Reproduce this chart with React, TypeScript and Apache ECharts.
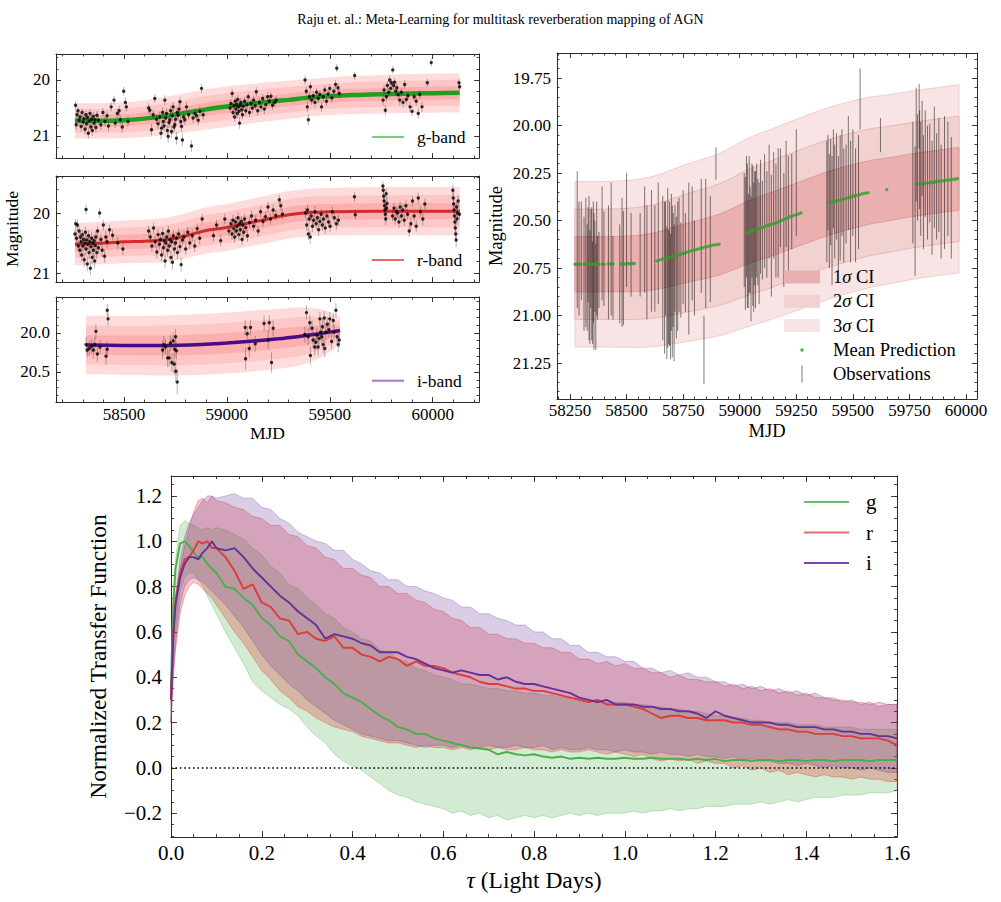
import React, { useEffect, useRef } from "react";
import * as echarts from "echarts";

const FONT = "'Liberation Serif', 'Times New Roman', Times, serif";
const FRAME = "#2b2b2b";

/* ------------------------------------------------------------------ */
/* Transfer functions (lower panel): median and 1-sigma envelope       */
/* ------------------------------------------------------------------ */
const TAU = [
  0, 0.005, 0.01, 0.02, 0.03, 0.04, 0.05, 0.06, 0.07, 0.08, 0.09, 0.1,
  0.12, 0.14, 0.16, 0.18, 0.2, 0.22, 0.24, 0.26, 0.28, 0.3,
  0.32, 0.34, 0.36, 0.38, 0.4, 0.42, 0.44, 0.46, 0.48, 0.5,
  0.52, 0.54, 0.56, 0.58, 0.6, 0.62, 0.64, 0.66, 0.68, 0.7,
  0.72, 0.74, 0.76, 0.78, 0.8, 0.82, 0.84, 0.86, 0.88, 0.9,
  0.92, 0.94, 0.96, 0.98, 1.0, 1.02, 1.04, 1.06, 1.08, 1.1,
  1.12, 1.14, 1.16, 1.18, 1.2, 1.22, 1.24, 1.26, 1.28, 1.3,
  1.32, 1.34, 1.36, 1.38, 1.4, 1.42, 1.44, 1.46, 1.48, 1.5,
  1.52, 1.54, 1.56, 1.58, 1.6,
];

const G_TF = [
  0.35, 0.72, 0.88, 0.99, 1.0, 0.98, 0.95, 0.93, 0.93, 0.9, 0.88, 0.86,
  0.8, 0.79, 0.75, 0.72, 0.66, 0.63, 0.58, 0.56, 0.5, 0.47,
  0.44, 0.4, 0.37, 0.33, 0.31, 0.29, 0.26, 0.23, 0.21, 0.18,
  0.17, 0.15, 0.15, 0.13, 0.12, 0.11, 0.1, 0.09, 0.085, 0.08,
  0.06, 0.07, 0.06, 0.055, 0.06, 0.05, 0.045, 0.05, 0.04, 0.045,
  0.04, 0.045, 0.04, 0.04, 0.045, 0.04, 0.04, 0.045, 0.04, 0.04,
  0.04, 0.035, 0.04, 0.035, 0.04, 0.03, 0.035, 0.035, 0.03, 0.035,
  0.035, 0.03, 0.035, 0.035, 0.03, 0.035, 0.035, 0.03, 0.035, 0.035,
  0.035, 0.03, 0.035, 0.035, 0.035,
];
const G_TF_LO = [
  0.2, 0.45, 0.6, 0.78, 0.84, 0.86, 0.86, 0.83, 0.8, 0.76, 0.72, 0.68,
  0.6, 0.53, 0.46, 0.38, 0.34, 0.31, 0.28, 0.26, 0.23, 0.18,
  0.14, 0.11, 0.06, 0.03, 0.01, -0.01, -0.04, -0.07, -0.1, -0.12,
  -0.13, -0.15, -0.16, -0.17, -0.18, -0.2, -0.19, -0.21, -0.2, -0.22,
  -0.21, -0.23, -0.22, -0.21, -0.22, -0.21, -0.22, -0.21, -0.2, -0.21,
  -0.2, -0.21, -0.2, -0.2, -0.2, -0.19, -0.2, -0.19, -0.19, -0.18,
  -0.19, -0.18, -0.18, -0.17, -0.17, -0.17, -0.16, -0.16, -0.16, -0.15,
  -0.16, -0.15, -0.14, -0.15, -0.14, -0.13, -0.13, -0.13, -0.12, -0.12,
  -0.12, -0.11, -0.11, -0.11, -0.1,
];
const G_TF_HI = [
  0.5, 0.78, 0.92, 1.07, 1.09, 1.08, 1.07, 1.06, 1.05, 1.06, 1.05, 1.06,
  1.05, 1.03, 1.01, 0.97, 0.94, 0.89, 0.86, 0.81, 0.79, 0.75,
  0.72, 0.68, 0.66, 0.62, 0.6, 0.57, 0.56, 0.52, 0.51, 0.48,
  0.47, 0.44, 0.43, 0.41, 0.4, 0.39, 0.37, 0.37, 0.36, 0.35,
  0.35, 0.34, 0.34, 0.33, 0.33, 0.32, 0.32, 0.31, 0.31, 0.31,
  0.3, 0.3, 0.29, 0.29, 0.29, 0.28, 0.28, 0.27, 0.27, 0.26,
  0.26, 0.25, 0.25, 0.24, 0.23, 0.23, 0.22, 0.22, 0.21, 0.21,
  0.2, 0.2, 0.2, 0.19, 0.19, 0.19, 0.18, 0.18, 0.18, 0.18,
  0.17, 0.17, 0.17, 0.17, 0.17,
];

const R_TF = [
  0.3, 0.6, 0.74, 0.86, 0.92, 0.93, 0.96, 1.0, 0.99, 1.0, 0.97, 0.97,
  0.93, 0.87, 0.79, 0.81, 0.73, 0.71, 0.66, 0.65, 0.59, 0.6,
  0.57, 0.56, 0.58, 0.53, 0.53, 0.5, 0.49, 0.47, 0.49, 0.48,
  0.45, 0.47, 0.45, 0.45, 0.44, 0.42, 0.41, 0.4, 0.38, 0.37,
  0.37, 0.36, 0.35, 0.35, 0.34, 0.34, 0.33, 0.32, 0.31, 0.3,
  0.29, 0.3, 0.28, 0.28, 0.28, 0.27, 0.26, 0.24, 0.22, 0.23,
  0.23, 0.22, 0.22, 0.21, 0.21, 0.21, 0.2, 0.2, 0.19, 0.19,
  0.18, 0.17, 0.17, 0.16, 0.16, 0.15, 0.15, 0.15, 0.14, 0.14,
  0.13, 0.13, 0.13, 0.12, 0.1,
];
const R_TF_LO = [
  0.2, 0.4, 0.52, 0.68, 0.76, 0.8, 0.82, 0.81, 0.79, 0.77, 0.75, 0.72,
  0.66, 0.6, 0.55, 0.49, 0.43, 0.39, 0.34, 0.31, 0.27, 0.25,
  0.22, 0.2, 0.18, 0.17, 0.16, 0.14, 0.13, 0.12, 0.11, 0.11,
  0.1, 0.09, 0.1, 0.09, 0.09, 0.08, 0.09, 0.08, 0.09, 0.08,
  0.09, 0.08, 0.08, 0.09, 0.08, 0.08, 0.07, 0.08, 0.07, 0.07,
  0.08, 0.07, 0.06, 0.07, 0.06, 0.05, 0.06, 0.04, 0.03, 0.04,
  0.03, 0.04, 0.02, 0.03, 0.02, 0.02, 0.0, 0.01, -0.01, 0.0,
  -0.02, -0.01, -0.03, -0.02, -0.03, -0.04, -0.03, -0.04, -0.04, -0.05,
  -0.04, -0.05, -0.05, -0.06, -0.06,
];
const R_TF_HI = [
  0.35, 0.58, 0.72, 0.88, 0.98, 1.06, 1.13, 1.18, 1.19, 1.17, 1.2, 1.18,
  1.17, 1.15, 1.14, 1.11, 1.1, 1.07, 1.07, 1.03, 1.02, 0.98,
  0.97, 0.93, 0.92, 0.88, 0.88, 0.85, 0.84, 0.8, 0.8, 0.77,
  0.77, 0.74, 0.73, 0.7, 0.69, 0.66, 0.65, 0.62, 0.62, 0.59,
  0.59, 0.57, 0.57, 0.55, 0.55, 0.53, 0.53, 0.51, 0.51, 0.48,
  0.48, 0.46, 0.47, 0.45, 0.46, 0.44, 0.44, 0.42, 0.42, 0.4,
  0.41, 0.39, 0.39, 0.38, 0.38, 0.36, 0.37, 0.35, 0.36, 0.34,
  0.35, 0.33, 0.34, 0.32, 0.33, 0.31, 0.31, 0.3, 0.3, 0.29,
  0.29, 0.28, 0.29, 0.28, 0.28,
];

const I_TF = [
  0.3, 0.58, 0.72, 0.84, 0.9, 0.93, 0.93, 0.92, 0.95, 0.97, 1.0, 0.97,
  0.96, 0.97, 0.93, 0.88, 0.84, 0.8, 0.76, 0.73, 0.69, 0.66,
  0.63, 0.57, 0.59, 0.58, 0.57, 0.55, 0.54, 0.51, 0.51, 0.51,
  0.49, 0.48, 0.46, 0.44, 0.43, 0.42, 0.43, 0.42, 0.41, 0.41,
  0.39, 0.4, 0.38, 0.37, 0.37, 0.36, 0.35, 0.34, 0.33, 0.31,
  0.3, 0.29, 0.3, 0.28, 0.28, 0.28, 0.27, 0.27, 0.26, 0.26,
  0.25, 0.25, 0.24, 0.22, 0.25, 0.23, 0.22, 0.21, 0.2, 0.2,
  0.2, 0.19, 0.19, 0.18, 0.18, 0.18, 0.17, 0.17, 0.16, 0.16,
  0.15, 0.15, 0.14, 0.14, 0.13,
];
const I_TF_LO = [
  0.2, 0.42, 0.55, 0.72, 0.8, 0.83, 0.84, 0.83, 0.82, 0.8, 0.78, 0.76,
  0.72, 0.67, 0.62, 0.56, 0.5, 0.45, 0.41, 0.37, 0.34, 0.3,
  0.27, 0.24, 0.21, 0.19, 0.17, 0.15, 0.14, 0.13, 0.12, 0.12,
  0.11, 0.1, 0.09, 0.1, 0.1, 0.09, 0.1, 0.09, 0.09, 0.1,
  0.09, 0.09, 0.1, 0.09, 0.09, 0.1, 0.08, 0.09, 0.08, 0.08,
  0.09, 0.08, 0.08, 0.07, 0.08, 0.07, 0.07, 0.06, 0.07, 0.06,
  0.06, 0.05, 0.06, 0.05, 0.05, 0.04, 0.05, 0.03, 0.04, 0.03,
  0.03, 0.02, 0.02, 0.01, 0.02, 0.01, 0.0, 0.01, 0.0, 0.0,
  -0.01, 0.0, -0.01, -0.02, -0.02,
];
const I_TF_HI = [
  0.35, 0.6, 0.75, 0.92, 1.02, 1.08, 1.12, 1.15, 1.18, 1.2, 1.2, 1.19,
  1.2, 1.21, 1.19, 1.19, 1.15, 1.14, 1.1, 1.08, 1.04, 1.02,
  1.0, 0.99, 0.96, 0.96, 0.92, 0.9, 0.87, 0.86, 0.83, 0.83,
  0.8, 0.8, 0.78, 0.77, 0.75, 0.74, 0.71, 0.71, 0.68, 0.68,
  0.66, 0.65, 0.63, 0.63, 0.6, 0.6, 0.57, 0.57, 0.54, 0.54,
  0.51, 0.51, 0.49, 0.49, 0.47, 0.47, 0.44, 0.44, 0.42, 0.43,
  0.41, 0.42, 0.4, 0.4, 0.38, 0.38, 0.36, 0.37, 0.35, 0.36,
  0.34, 0.35, 0.33, 0.34, 0.32, 0.33, 0.31, 0.31, 0.29, 0.3,
  0.28, 0.29, 0.27, 0.28, 0.28,
];

/* ------------------------------------------------------------------ */
/* Light-curve fits (left panels): knot MJD, mean magnitude, sigma     */
/* ------------------------------------------------------------------ */
const G_FIT_MJD = [58262, 58400, 58500, 58600, 58700, 58800, 58900, 59000, 59100, 59200, 59300, 59400, 59500, 59600, 59700, 59800, 59900, 60000, 60131];
const G_FIT_MAG = [20.73, 20.73, 20.72, 20.69, 20.645, 20.585, 20.525, 20.475, 20.43, 20.39, 20.355, 20.315, 20.29, 20.27, 20.26, 20.25, 20.24, 20.235, 20.23];
const G_FIT_SIG = [0.105, 0.105, 0.107, 0.11, 0.114, 0.117, 0.12, 0.12, 0.118, 0.116, 0.114, 0.112, 0.112, 0.113, 0.114, 0.115, 0.116, 0.116, 0.117];

const R_FIT_MJD = [58262, 58400, 58500, 58600, 58700, 58800, 58900, 59000, 59100, 59200, 59300, 59400, 59500, 59600, 59800, 60000, 60131];
const R_FIT_MAG = [20.52, 20.5, 20.48, 20.47, 20.45, 20.38, 20.29, 20.24, 20.17, 20.1, 20.03, 19.99, 19.98, 19.975, 19.97, 19.97, 19.97];
const R_FIT_SIG = [0.118, 0.118, 0.119, 0.12, 0.122, 0.125, 0.128, 0.13, 0.131, 0.132, 0.132, 0.132, 0.132, 0.133, 0.134, 0.135, 0.135];

const I_FIT_MJD = [58316, 58500, 58700, 58900, 59000, 59100, 59250, 59350, 59450, 59500, 59550];
const I_FIT_MAG = [20.155, 20.16, 20.16, 20.145, 20.13, 20.11, 20.075, 20.045, 20.01, 19.99, 19.97];
const I_FIT_SIG = [0.125, 0.126, 0.128, 0.13, 0.13, 0.13, 0.128, 0.125, 0.105, 0.085, 0.06];

/* Observed photometry: [MJD, magnitude, error] */
const G_OBS = [
  [58265, 20.45, 0.07], [58268, 20.8, 0.08], [58272, 20.62, 0.08], [58277, 20.55, 0.07], [58282, 20.72, 0.09], [58287, 20.66, 0.08],
  [58292, 20.83, 0.09], [58297, 20.58, 0.07], [58302, 20.75, 0.1], [58306, 20.69, 0.08], [58311, 20.88, 0.1], [58315, 20.62, 0.08],
  [58319, 20.78, 0.09], [58323, 20.67, 0.08], [58327, 20.95, 0.1], [58331, 20.73, 0.09], [58335, 20.6, 0.08], [58339, 20.84, 0.1],
  [58343, 20.7, 0.09], [58347, 20.9, 0.1], [58351, 20.65, 0.08], [58355, 20.77, 0.09], [58359, 20.71, 0.1], [58364, 20.85, 0.09],
  [58369, 20.63, 0.08], [58376, 20.72, 0.08], [58388, 20.8, 0.09], [58398, 20.58, 0.08], [58408, 20.74, 0.09], [58418, 20.64, 0.08],
  [58425, 20.82, 0.1], [58438, 20.48, 0.08], [58452, 20.36, 0.08], [58458, 20.77, 0.09], [58468, 20.6, 0.08], [58477, 20.55, 0.09],
  [58482, 20.71, 0.09], [58492, 20.84, 0.1], [58499, 20.2, 0.08], [58507, 20.4, 0.09], [58512, 20.48, 0.08], [58520, 20.74, 0.09],
  [58620, 20.5, 0.09], [58626, 20.54, 0.08], [58634, 20.89, 0.1], [58642, 20.62, 0.09], [58650, 20.33, 0.08], [58658, 20.7, 0.09],
  [58666, 20.78, 0.1], [58674, 20.66, 0.09], [58680, 20.95, 0.11], [58683, 20.86, 0.1], [58688, 20.58, 0.09], [58691, 20.74, 0.1],
  [58695, 20.82, 0.1], [58699, 20.36, 0.09], [58703, 20.68, 0.1], [58707, 20.6, 0.09], [58711, 20.9, 0.1], [58715, 21.01, 0.11],
  [58719, 20.76, 0.1], [58723, 20.71, 0.1], [58727, 20.55, 0.09], [58731, 20.92, 0.11], [58735, 20.64, 0.1], [58739, 20.48, 0.09],
  [58743, 20.84, 0.1], [58747, 20.8, 0.1], [58751, 20.7, 0.09], [58755, 21.04, 0.11], [58759, 20.58, 0.1], [58763, 20.63, 0.09],
  [58768, 20.52, 0.09], [58772, 20.39, 0.09], [58776, 20.74, 0.1], [58780, 20.83, 0.1], [58784, 21.07, 0.11], [58790, 20.66, 0.1],
  [58796, 20.71, 0.09], [58804, 20.48, 0.09], [58814, 20.62, 0.09], [58828, 21.18, 0.1], [58836, 20.68, 0.09], [58845, 20.6, 0.09],
  [58853, 20.64, 0.09], [58861, 20.72, 0.09], [58869, 20.56, 0.09], [58877, 20.15, 0.08], [58885, 20.62, 0.09],
  [59016, 20.5, 0.08], [59020, 20.42, 0.08], [59026, 20.24, 0.08], [59030, 20.58, 0.09], [59034, 20.46, 0.08], [59038, 20.66, 0.09],
  [59041, 20.38, 0.08], [59044, 20.52, 0.09], [59047, 20.44, 0.08], [59050, 20.6, 0.09], [59053, 20.35, 0.08], [59056, 20.48, 0.08],
  [59059, 20.56, 0.09], [59062, 20.77, 0.1], [59065, 20.45, 0.08], [59068, 20.4, 0.08], [59072, 20.53, 0.09], [59076, 20.62, 0.09],
  [59080, 20.47, 0.08], [59086, 20.38, 0.08], [59092, 20.55, 0.09], [59098, 20.44, 0.08], [59104, 20.3, 0.08], [59110, 20.58, 0.09],
  [59117, 20.42, 0.08], [59124, 20.5, 0.09], [59130, 20.36, 0.08], [59138, 20.46, 0.08], [59143, 20.21, 0.08], [59150, 20.55, 0.09],
  [59158, 20.4, 0.08], [59166, 20.48, 0.09], [59174, 20.33, 0.08], [59182, 20.52, 0.09], [59190, 20.44, 0.08], [59198, 20.3, 0.08],
  [59206, 20.38, 0.08], [59214, 20.29, 0.08], [59222, 20.45, 0.09], [59232, 20.4, 0.08], [59240, 20.36, 0.08],
  [59380, 20.0, 0.08], [59386, 20.2, 0.08], [59391, 20.48, 0.09], [59396, 20.71, 0.1], [59401, 20.3, 0.08], [59406, 20.12, 0.08],
  [59412, 20.36, 0.09], [59420, 20.28, 0.08], [59428, 20.4, 0.09], [59436, 20.22, 0.08], [59444, 20.33, 0.08], [59452, 20.26, 0.08],
  [59460, 20.48, 0.09], [59468, 20.3, 0.08], [59476, 20.18, 0.08], [59484, 20.38, 0.09], [59492, 20.25, 0.08], [59500, 20.15, 0.08],
  [59510, 20.32, 0.08], [59520, 20.2, 0.08], [59528, 20.08, 0.08], [59534, 19.79, 0.07], [59540, 20.14, 0.08], [59546, 20.24, 0.08],
  [59621, 19.92, 0.07],
  [59759, 20.36, 0.09], [59764, 20.18, 0.08], [59770, 20.54, 0.09], [59775, 20.3, 0.08], [59780, 20.1, 0.08], [59786, 20.22, 0.08],
  [59791, 20.0, 0.08], [59796, 20.15, 0.08], [59800, 20.05, 0.07], [59806, 19.82, 0.07], [59810, 20.1, 0.08], [59815, 20.04, 0.08],
  [59820, 20.2, 0.08], [59826, 20.14, 0.08], [59832, 20.26, 0.09], [59840, 20.36, 0.09], [59848, 20.22, 0.08], [59856, 20.4, 0.09],
  [59864, 20.08, 0.08], [59872, 20.35, 0.09], [59880, 20.28, 0.08], [59890, 20.48, 0.09], [59900, 20.56, 0.09], [59910, 20.3, 0.08],
  [59920, 20.38, 0.08], [59930, 20.6, 0.09], [59937, 20.26, 0.08], [59948, 20.48, 0.09],
  [59974, 20.05, 0.07], [59993, 19.69, 0.07], [60128, 20.05, 0.07], [60131, 20.12, 0.07],
];

const R_OBS = [
  [58262, 20.35, 0.09], [58266, 20.18, 0.08], [58270, 20.42, 0.1], [58274, 20.2, 0.09], [58278, 20.55, 0.1], [58282, 20.3, 0.09],
  [58286, 20.62, 0.11], [58289, 20.4, 0.1], [58292, 20.48, 0.1], [58295, 20.7, 0.11], [58298, 20.36, 0.09], [58301, 20.55, 0.1],
  [58304, 20.44, 0.1], [58307, 20.78, 0.12], [58310, 20.5, 0.1], [58313, 20.32, 0.09], [58316, 19.94, 0.08], [58316, 20.6, 0.11],
  [58319, 20.45, 0.1], [58322, 20.85, 0.12], [58325, 20.52, 0.1], [58328, 20.38, 0.09], [58331, 20.66, 0.11], [58334, 20.48, 0.1],
  [58337, 20.92, 0.12], [58340, 20.56, 0.1], [58343, 20.42, 0.1], [58346, 20.74, 0.11], [58349, 20.5, 0.1], [58352, 20.62, 0.11],
  [58355, 20.46, 0.1], [58358, 20.8, 0.12], [58361, 20.54, 0.1], [58364, 20.4, 0.1], [58368, 20.66, 0.11], [58372, 20.3, 0.09],
  [58376, 20.58, 0.1], [58382, 20.0, 0.08], [58388, 20.44, 0.1], [58394, 20.62, 0.11], [58400, 20.2, 0.09], [58406, 20.72, 0.11],
  [58412, 20.4, 0.1], [58418, 20.48, 0.1], [58430, 20.28, 0.09], [58445, 20.37, 0.09], [58470, 20.5, 0.1], [58495, 20.6, 0.1],
  [58620, 20.3, 0.09], [58628, 20.4, 0.1], [58636, 20.55, 0.1], [58644, 20.25, 0.09], [58652, 20.48, 0.1], [58660, 20.65, 0.11],
  [58666, 20.36, 0.1], [58672, 20.52, 0.1], [58678, 20.44, 0.1], [58683, 20.7, 0.11], [58688, 20.34, 0.1], [58692, 20.58, 0.11],
  [58696, 20.46, 0.1], [58700, 20.8, 0.12], [58704, 20.5, 0.1], [58708, 20.4, 0.1], [58712, 20.62, 0.11], [58716, 20.3, 0.09],
  [58720, 20.55, 0.1], [58724, 20.44, 0.1], [58728, 20.74, 0.11], [58732, 20.48, 0.1], [58736, 20.82, 0.12], [58740, 20.38, 0.1],
  [58745, 20.6, 0.11], [58750, 20.5, 0.1], [58755, 20.42, 0.1], [58760, 20.66, 0.11], [58766, 20.35, 0.1], [58772, 20.56, 0.1],
  [58778, 20.86, 0.12], [58784, 20.45, 0.1], [58792, 20.4, 0.1], [58800, 20.6, 0.1], [58810, 20.32, 0.09], [58820, 20.5, 0.1],
  [58832, 20.38, 0.1], [58844, 20.55, 0.1], [58856, 20.26, 0.09], [58868, 20.42, 0.1], [58880, 20.1, 0.09],
  [58935, 20.38, 0.1], [58950, 20.2, 0.09], [58970, 20.46, 0.1], [58990, 20.1, 0.09], [59010, 20.3, 0.09], [59020, 20.18, 0.09],
  [59025, 20.35, 0.1], [59030, 20.12, 0.09], [59034, 20.26, 0.09], [59038, 20.4, 0.1], [59042, 20.15, 0.09], [59046, 20.3, 0.09],
  [59050, 20.22, 0.09], [59054, 20.08, 0.09], [59058, 20.36, 0.1], [59062, 20.18, 0.09], [59066, 20.28, 0.09], [59070, 20.14, 0.09],
  [59074, 20.44, 0.1], [59078, 20.2, 0.09], [59082, 20.32, 0.09], [59086, 20.1, 0.09], [59092, 20.24, 0.09], [59100, 20.38, 0.1],
  [59110, 20.16, 0.09], [59120, 20.05, 0.09], [59130, 20.22, 0.09], [59140, 20.12, 0.09], [59152, 20.3, 0.09], [59164, 19.98, 0.09],
  [59176, 20.14, 0.09], [59188, 20.06, 0.09], [59200, 19.9, 0.09], [59212, 20.1, 0.09], [59225, 19.95, 0.09], [59238, 20.04, 0.09],
  [59255, 19.78, 0.08], [59262, 19.88, 0.08], [59270, 20.02, 0.09],
  [59382, 20.0, 0.09], [59388, 20.2, 0.1], [59392, 19.95, 0.09], [59396, 20.35, 0.1], [59400, 20.1, 0.09], [59405, 20.4, 0.11],
  [59410, 20.05, 0.09], [59416, 20.22, 0.1], [59422, 20.12, 0.09], [59428, 19.98, 0.09], [59434, 20.18, 0.1], [59440, 20.08, 0.09],
  [59446, 20.28, 0.1], [59452, 20.14, 0.09], [59458, 20.02, 0.09], [59464, 20.2, 0.1], [59470, 20.1, 0.09], [59478, 20.25, 0.1],
  [59486, 20.05, 0.09], [59494, 20.15, 0.09], [59502, 20.22, 0.1], [59512, 19.98, 0.09], [59522, 20.08, 0.09], [59532, 20.18, 0.1],
  [59542, 20.12, 0.09], [59620, 19.73, 0.08], [59624, 20.03, 0.09],
  [59758, 19.55, 0.08], [59760, 19.62, 0.09], [59762, 19.72, 0.09], [59764, 19.8, 0.1], [59766, 19.88, 0.1], [59768, 19.95, 0.1],
  [59770, 20.02, 0.1], [59772, 20.1, 0.1], [59774, 19.68, 0.09], [59776, 19.92, 0.1], [59778, 19.84, 0.1],
  [59805, 20.05, 0.09], [59812, 19.92, 0.09], [59818, 20.1, 0.1], [59824, 19.98, 0.09], [59830, 20.0, 0.09], [59836, 20.15, 0.1],
  [59842, 19.9, 0.09], [59848, 20.05, 0.09], [59855, 19.95, 0.09], [59862, 20.12, 0.1], [59870, 19.88, 0.09], [59878, 20.02, 0.09],
  [59886, 20.3, 0.1], [59894, 20.18, 0.1], [59902, 19.8, 0.09], [59910, 20.05, 0.09], [59920, 20.22, 0.1], [59930, 19.75, 0.09],
  [59940, 19.98, 0.09], [59952, 20.1, 0.1], [59962, 19.85, 0.09],
  [60098, 19.62, 0.09], [60100, 19.75, 0.1], [60102, 19.85, 0.1], [60104, 19.95, 0.1], [60106, 20.05, 0.1], [60108, 20.15, 0.1],
  [60110, 20.25, 0.11], [60112, 20.35, 0.11], [60114, 20.45, 0.12], [60116, 19.9, 0.1], [60118, 20.1, 0.1], [60120, 20.0, 0.1],
  [60124, 19.8, 0.09], [60130, 20.02, 0.09],
];

const I_OBS = [
  [58316, 20.15, 0.1], [58322, 20.22, 0.09], [58332, 20.2, 0.1], [58343, 20.17, 0.09], [58351, 20.22, 0.11], [58359, 20.15, 0.1],
  [58364, 19.98, 0.09], [58371, 20.27, 0.1], [58384, 20.18, 0.09], [58413, 20.3, 0.11], [58419, 19.71, 0.08], [58423, 19.82, 0.09],
  [58419, 20.21, 0.1], [58688, 20.22, 0.12], [58694, 20.15, 0.11], [58702, 20.18, 0.1], [58712, 20.32, 0.12], [58720, 20.32, 0.11],
  [58726, 20.13, 0.1], [58733, 20.38, 0.12], [58739, 20.1, 0.1], [58744, 20.4, 0.13], [58747, 20.21, 0.11], [58751, 20.05, 0.1],
  [58752, 20.49, 0.13], [58755, 20.23, 0.11], [58759, 20.63, 0.16], [59089, 19.93, 0.1], [59091, 20.33, 0.14], [59099, 20.01, 0.1],
  [59109, 20.2, 0.11], [59115, 19.93, 0.1], [59138, 20.14, 0.1], [59181, 19.88, 0.1], [59201, 20.09, 0.12], [59206, 19.87, 0.1],
  [59217, 20.38, 0.13], [59225, 19.94, 0.1], [59379, 20.02, 0.1], [59387, 19.74, 0.09], [59395, 20.05, 0.11], [59403, 19.87, 0.1],
  [59406, 20.29, 0.12], [59414, 19.94, 0.1], [59419, 20.09, 0.11], [59427, 20.18, 0.11], [59432, 20.12, 0.1], [59438, 20.03, 0.1],
  [59443, 20.18, 0.11], [59448, 20.07, 0.1], [59452, 19.82, 0.09], [59456, 19.99, 0.1], [59461, 20.05, 0.1], [59465, 19.92, 0.1],
  [59468, 20.15, 0.11], [59473, 19.81, 0.09], [59476, 20.2, 0.11], [59481, 19.99, 0.1], [59488, 19.89, 0.1], [59496, 19.96, 0.1],
  [59500, 19.82, 0.09], [59509, 20.11, 0.1], [59517, 19.84, 0.09], [59521, 19.99, 0.1], [59530, 19.71, 0.09], [59536, 20.05, 0.1],
  [59541, 20.15, 0.1], [59546, 20.09, 0.1],
];

/* ------------------------------------------------------------------ */
/* Single-band model (upper-right panel)                               */
/* ------------------------------------------------------------------ */
const RB_MJD = [58272, 58400, 58540, 58633, 58750, 58913, 59031, 59150, 59274, 59399, 59568, 59650, 59782, 59969];
const RB_MEAN = [20.73, 20.73, 20.726, 20.712, 20.675, 20.625, 20.565, 20.515, 20.46, 20.407, 20.353, 20.337, 20.31, 20.28];
const RB_SIG = [0.145, 0.145, 0.147, 0.15, 0.155, 0.16, 0.165, 0.167, 0.168, 0.168, 0.167, 0.166, 0.165, 0.165];

const RB_PRED = [
  [58272, 20.73], [58280, 20.73], [58288, 20.73], [58296, 20.73], [58312, 20.73], [58320, 20.73], [58328, 20.73], [58336, 20.73],
  [58344, 20.73], [58352, 20.73], [58360, 20.73], [58368, 20.73], [58376, 20.73], [58392, 20.73], [58400, 20.73], [58420, 20.729],
  [58432, 20.729], [58440, 20.729], [58474, 20.728], [58484, 20.728], [58494, 20.728], [58504, 20.727], [58514, 20.727], [58524, 20.726], [58534, 20.726],
  [58633, 20.712], [58645, 20.708], [58657, 20.704], [58669, 20.7], [58681, 20.696], [58693, 20.692], [58705, 20.688], [58717, 20.684],
  [58729, 20.68], [58741, 20.676], [58753, 20.672], [58765, 20.667], [58777, 20.663], [58789, 20.659], [58801, 20.655], [58813, 20.651],
  [58825, 20.647], [58837, 20.643], [58849, 20.639], [58861, 20.635], [58873, 20.632], [58885, 20.629], [58897, 20.627], [58909, 20.625],
  [59031, 20.565], [59043, 20.56], [59055, 20.555], [59067, 20.55], [59079, 20.545], [59091, 20.54], [59103, 20.535], [59115, 20.53],
  [59127, 20.525], [59139, 20.52], [59151, 20.515], [59163, 20.51], [59175, 20.504], [59187, 20.498], [59199, 20.492], [59211, 20.486],
  [59223, 20.48], [59235, 20.475], [59247, 20.47], [59259, 20.465], [59271, 20.46],
  [59399, 20.407], [59411, 20.403], [59423, 20.399], [59435, 20.395], [59447, 20.391], [59459, 20.387], [59471, 20.383], [59483, 20.379],
  [59495, 20.375], [59507, 20.371], [59519, 20.367], [59531, 20.363], [59543, 20.359], [59555, 20.356], [59567, 20.353],
  [59650, 20.337],
  [59782, 20.31], [59794, 20.308], [59806, 20.306], [59818, 20.304], [59830, 20.302], [59842, 20.3], [59854, 20.298], [59866, 20.296],
  [59878, 20.294], [59890, 20.292], [59902, 20.29], [59914, 20.288], [59926, 20.286], [59938, 20.284], [59950, 20.282], [59962, 20.28],
];

const RB_OBS = [
  [58282, 20.6, 0.36], [58290, 20.7, 0.3], [58300, 20.66, 0.26], [58312, 20.78, 0.3], [58320, 20.72, 0.34], [58326, 20.8, 0.28],
  [58330, 20.68, 0.25], [58334, 20.75, 0.38], [58338, 20.85, 0.3], [58342, 20.7, 0.26], [58346, 20.78, 0.35], [58350, 20.88, 0.27],
  [58353, 20.72, 0.32], [58356, 20.82, 0.36], [58360, 20.74, 0.24], [58364, 20.9, 0.28], [58368, 20.7, 0.3], [58372, 20.8, 0.22],
  [58378, 20.76, 0.2], [58392, 20.62, 0.3], [58400, 20.7, 0.25], [58420, 20.72, 0.3], [58432, 20.65, 0.35], [58440, 20.8, 0.22],
  [58470, 20.78, 0.26], [58480, 20.72, 0.34], [58486, 20.75, 0.3], [58500, 20.55, 0.3], [58520, 20.68, 0.22],
  [58560, 20.68, 0.22], [58580, 20.6, 0.28], [58590, 20.72, 0.3], [58610, 20.66, 0.32], [58625, 20.7, 0.28], [58640, 20.62, 0.32],
  [58660, 20.75, 0.38], [58668, 20.8, 0.4], [58672, 20.7, 0.3], [58678, 20.88, 0.35], [58682, 20.75, 0.42], [58686, 20.85, 0.3],
  [58690, 20.78, 0.38], [58694, 20.9, 0.33], [58698, 20.72, 0.36], [58702, 20.82, 0.4], [58706, 20.76, 0.3], [58710, 20.88, 0.36],
  [58714, 20.7, 0.28], [58720, 20.8, 0.32], [58726, 20.74, 0.34], [58732, 20.68, 0.3], [58740, 20.76, 0.25], [58750, 20.64, 0.3],
  [58760, 20.72, 0.26], [58775, 20.7, 0.4], [58790, 20.62, 0.3], [58800, 20.75, 0.25], [58830, 20.58, 0.3], [58842, 21.18, 0.18],
  [58850, 20.62, 0.34], [58870, 20.65, 0.28], [58895, 20.2, 0.085],
  [59020, 20.55, 0.3], [59025, 20.62, 0.35], [59030, 20.48, 0.32], [59034, 20.58, 0.38], [59038, 20.66, 0.3], [59042, 20.52, 0.36],
  [59046, 20.6, 0.28], [59050, 20.7, 0.33], [59054, 20.5, 0.3], [59058, 20.58, 0.37], [59062, 20.64, 0.34], [59066, 20.54, 0.3],
  [59070, 20.6, 0.36], [59075, 20.5, 0.3], [59080, 20.56, 0.28], [59086, 20.62, 0.32], [59092, 20.48, 0.3], [59100, 20.55, 0.26],
  [59110, 20.45, 0.3], [59120, 20.52, 0.28], [59130, 20.4, 0.3], [59140, 20.58, 0.32], [59150, 20.42, 0.28], [59160, 20.5, 0.3],
  [59170, 20.46, 0.34], [59180, 20.38, 0.26], [59195, 20.55, 0.3], [59205, 20.36, 0.28], [59215, 20.48, 0.32], [59230, 20.4, 0.25],
  [59250, 20.3, 0.28],
  [59385, 20.4, 0.32], [59390, 20.3, 0.25], [59396, 20.45, 0.3], [59402, 20.35, 0.28], [59408, 20.5, 0.34], [59414, 20.28, 0.26],
  [59420, 20.4, 0.3], [59428, 20.32, 0.28], [59436, 20.46, 0.3], [59444, 20.38, 0.33], [59452, 20.3, 0.28], [59460, 20.42, 0.3],
  [59470, 20.36, 0.26], [59480, 20.25, 0.3], [59490, 20.4, 0.32], [59500, 20.3, 0.28], [59512, 20.42, 0.3], [59525, 20.35, 0.3],
  [59532, 19.86, 0.16], [59622, 20.05, 0.09],
  [59765, 20.3, 0.32], [59775, 20.45, 0.34], [59780, 20.1, 0.3], [59786, 20.22, 0.28], [59793, 19.95, 0.17], [59795, 20.18, 0.26],
  [59800, 20.28, 0.3], [59806, 20.12, 0.25], [59812, 20.35, 0.3], [59820, 20.2, 0.28], [59830, 20.3, 0.3], [59840, 20.25, 0.26],
  [59850, 20.38, 0.3], [59860, 20.22, 0.32], [59870, 20.32, 0.28], [59880, 20.26, 0.3], [59890, 20.4, 0.3], [59905, 20.3, 0.35],
  [59920, 20.28, 0.3], [59935, 20.38, 0.32],
];

/* Axis tick positions and labels */
const MJD_TICKS_LEFT = [58500, 59000, 59500, 60000];
const MJD_TICKS_RIGHT = [58250, 58500, 58750, 59000, 59250, 59500, 59750, 60000];
const MAG_TICKS_G = [20, 21];
const MAG_TICKS_R = [20, 21];
const MAG_TICKS_I = [20.0, 20.5];
const MAG_TICKS_RIGHT = [19.75, 20.0, 20.25, 20.5, 20.75, 21.0, 21.25];
const TAU_TICKS = [0, 0.2, 0.4, 0.6, 0.8, 1.0, 1.2, 1.4, 1.6];
const TF_TICKS = [-0.2, 0, 0.2, 0.4, 0.6, 0.8, 1.0, 1.2];

/* ------------------------------------------------------------------ */

const steps = (a: number, b: number, s: number) => {
  const out: number[] = [];
  const n = Math.round((b - a) / s);
  for (let i = 0; i <= n; i++) out.push(Math.round((a + i * s) * 10000) / 10000);
  return out;
};

const LEFT_FILL: any = { 3: "#ffdcdc", 2: "#ffc6c6", 1: "#fbafaf" };
const RIGHT_FILL: any = { 3: "#f8e4e4", 2: "#f2d1d1", 1: "#eab0b0" };
const RIGHT_EDGE: any = { 3: "#f0cdcd", 2: "#e8baba", 1: "#de9b9b" };

function buildOption() {
  const xAxis: any[] = [];
  const yAxis: any[] = [];

  function addAxes(list: any[], dim: "x" | "y", c: any): number {
    const near = dim === "x" ? "bottom" : "left";
    const far = dim === "x" ? "top" : "right";
    const common = {
      type: "value", gridIndex: c.grid, min: c.min, max: c.max, inverse: !!c.inverse,
      splitLine: { show: false }, splitArea: { show: false }, silent: true,
    };
    const line = (show: boolean) => ({ show, onZero: false, lineStyle: { color: FRAME, width: 1 } });
    const ticks = (vals: number[], len: number) => ({
      show: true, inside: true, length: len, customValues: vals, lineStyle: { color: FRAME, width: 0.9 },
    });
    const first = list.length;
    list.push({
      ...common, position: near, axisLine: line(true), axisTick: ticks(c.major, c.len[0]),
      axisLabel: c.fmt
        ? { show: true, customValues: c.major, formatter: c.fmt, fontFamily: FONT, fontSize: c.fs, color: "#000", margin: c.margin }
        : { show: false },
      name: c.name || "", nameLocation: "middle", nameGap: c.nameGap || 0,
      nameTextStyle: { fontFamily: FONT, fontSize: c.nfs || 17, color: "#000", rich: c.rich },
    });
    list.push({ ...common, position: near, axisLine: line(false), axisTick: ticks(c.minor, c.len[1]), axisLabel: { show: false } });
    list.push({ ...common, position: far, axisLine: line(true), axisTick: ticks(c.major, c.len[0]), axisLabel: { show: false } });
    list.push({ ...common, position: far, axisLine: line(false), axisTick: ticks(c.minor, c.len[1]), axisLabel: { show: false } });
    return first;
  }

  const intFmt = (v: number) => String(Math.round(v));
  const f1 = (v: number) => v.toFixed(1);
  const f2 = (v: number) => v.toFixed(2);
  const tfFmt = (v: number) => (v < -1e-9 ? "\u2212" : "") + Math.abs(v).toFixed(1);

  // light-curve panels (left column)
  const leftX = { min: 58170, max: 60225, major: MJD_TICKS_LEFT, minor: steps(58200, 60200, 100), len: [5, 2.5] };
  const gx = addAxes(xAxis, "x", { ...leftX, grid: 0 });
  const gy = addAxes(yAxis, "y", { grid: 0, min: 19.536, max: 21.393, inverse: true, major: MAG_TICKS_G, minor: steps(19.6, 21.2, 0.2), len: [5, 2.5], fmt: intFmt, fs: 17, margin: 6 });
  const rx = addAxes(xAxis, "x", { ...leftX, grid: 1 });
  const ry = addAxes(yAxis, "y", { grid: 1, min: 19.383, max: 21.15, inverse: true, major: MAG_TICKS_R, minor: steps(19.4, 21.0, 0.2), len: [5, 2.5], fmt: intFmt, fs: 17, margin: 6, name: "Magnitude", nameGap: 35, nfs: 17.5 });
  const ix = addAxes(xAxis, "x", { ...leftX, grid: 2, fmt: intFmt, fs: 17, margin: 4, name: "MJD", nameGap: 19, nfs: 17.5 });
  const iy = addAxes(yAxis, "y", { grid: 2, min: 19.54, max: 20.885, inverse: true, major: MAG_TICKS_I, minor: steps(19.6, 20.8, 0.1), len: [5, 2.5], fmt: f1, fs: 17, margin: 6 });

  // single-band model (upper right)
  const bx = addAxes(xAxis, "x", { grid: 3, min: 58192.6, max: 60048.6, major: MJD_TICKS_RIGHT, minor: steps(58200, 60000, 50), len: [5, 2.5], fmt: intFmt, fs: 17, margin: 3, name: "MJD", nameGap: 22, nfs: 18.5 });
  const by = addAxes(yAxis, "y", { grid: 3, min: 19.618, max: 21.439, inverse: true, major: MAG_TICKS_RIGHT, minor: steps(19.65, 21.4, 0.05), len: [5, 2.5], fmt: f2, fs: 17, margin: 6, name: "Magnitude", nameGap: 52, nfs: 18.5 });

  // transfer functions (bottom)
  const tx = addAxes(xAxis, "x", {
    grid: 4, min: 0, max: 1.6, major: TAU_TICKS, minor: steps(0, 1.6, 0.05), len: [6, 3], fmt: f1, fs: 21, margin: 5,
    name: "{t|\u03c4} (Light Days)", nameGap: 31, nfs: 23.5,
    rich: { t: { fontStyle: "italic", fontFamily: FONT, fontSize: 23.5 } },
  });
  const ty = addAxes(yAxis, "y", {
    grid: 4, min: -0.305, max: 1.288, major: TF_TICKS, minor: steps(-0.3, 1.25, 0.05), len: [6, 3], fmt: tfFmt, fs: 21, margin: 9,
    name: "Normalized Transfer Function", nameGap: 61, nfs: 23.5,
  });

  const series: any[] = [];

  // A filled band between lo and hi, drawn once as a closed polygon in data coordinates.
  function band(xi: number, yi: number, xs: number[], lo: number[], hi: number[], name: string, fill: string, edge: string | undefined, smooth: number, z: number) {
    series.push({
      type: "custom", name, xAxisIndex: xi, yAxisIndex: yi, silent: true, z,
      data: xs.map((x, i) => [x, lo[i], hi[i]]),
      encode: { x: 0, y: [1, 2] },
      itemStyle: { color: fill },
      renderItem: (params: any, api: any) => {
        if (params.dataIndex !== 0) return null;
        const up = xs.map((x, i) => api.coord([x, hi[i]]));
        const dn = xs.map((x, i) => api.coord([x, lo[i]])).reverse();
        // corners are doubled so that a smoothed outline keeps straight ends
        const pts = smooth
          ? [up[0], ...up, up[up.length - 1], dn[0], ...dn, dn[dn.length - 1]]
          : [...up, ...dn];
        return {
          type: "polygon",
          shape: { points: pts, smooth: smooth || 0 },
          style: { fill, stroke: edge || "none", lineWidth: edge ? 1 : 0 },
        };
      },
    });
  }

  function fitBands(xi: number, yi: number, mjd: number[], mag: number[], sig: number[], key: string, fills: any, edges: any, names: any) {
    [3, 2, 1].forEach((k) => {
      const lo = mag.map((m, i) => m - k * sig[i]);
      const hi = mag.map((m, i) => m + k * sig[i]);
      band(xi, yi, mjd, lo, hi, names ? names[k] : key + k + "-band", fills[k], edges ? edges[k] : undefined, 0.3, 1);
    });
  }

  function errorBars(xi: number, yi: number, data: number[][], name: string, color: string, z: number) {
    series.push({
      type: "custom", name, xAxisIndex: xi, yAxisIndex: yi, data, silent: true, z,
      encode: { x: 0, y: 1 }, itemStyle: { color },
      renderItem: (_p: any, api: any) => {
        const x = api.value(0), y = api.value(1), e = api.value(2);
        const a = api.coord([x, y - e]);
        const b = api.coord([x, y + e]);
        return { type: "line", shape: { x1: a[0], y1: a[1], x2: b[0], y2: b[1] }, style: { stroke: color, lineWidth: 1 } };
      },
    });
  }

  function lightCurve(xi: number, yi: number, key: string, name: string, mjd: number[], mag: number[], sig: number[], obs: number[][], color: string, width: number) {
    fitBands(xi, yi, mjd, mag, sig, key, LEFT_FILL, null, null);
    series.push({
      type: "line", name, xAxisIndex: xi, yAxisIndex: yi, data: mjd.map((m, i) => [m, mag[i]]),
      smooth: 0.3, symbol: "none", silent: true, z: 2, lineStyle: { color, width }, itemStyle: { color },
    });
    errorBars(xi, yi, obs, key + "-err", "rgba(60,60,60,0.38)", 3);
    series.push({
      type: "scatter", name: key + "-obs", xAxisIndex: xi, yAxisIndex: yi, data: obs.map((o) => [o[0], o[1]]),
      symbolSize: 3.4, itemStyle: { color: "#000" }, silent: true, z: 4,
    });
  }

  lightCurve(gx, gy, "g", "g-band", G_FIT_MJD, G_FIT_MAG, G_FIT_SIG, G_OBS, "#1f9e1f", 4.5);
  lightCurve(rx, ry, "r", "r-band", R_FIT_MJD, R_FIT_MAG, R_FIT_SIG, R_OBS, "#d52a2a", 3);
  lightCurve(ix, iy, "i", "i-band", I_FIT_MJD, I_FIT_MAG, I_FIT_SIG, I_OBS, "#4a0c86", 3.5);

  // upper right: confidence intervals, observations, mean prediction
  fitBands(bx, by, RB_MJD, RB_MEAN, RB_SIG, "rb", RIGHT_FILL, RIGHT_EDGE, { 1: "1\u03c3 CI", 2: "2\u03c3 CI", 3: "3\u03c3 CI" });
  errorBars(bx, by, RB_OBS, "Observations", "rgba(0,0,0,0.5)", 3);
  series.push({
    type: "scatter", name: "Mean Prediction", xAxisIndex: bx, yAxisIndex: by, data: RB_PRED,
    symbolSize: 3.4, itemStyle: { color: "#2ca02c" }, silent: true, z: 4,
  });

  // bottom: transfer-function envelopes and medians
  const TF = [
    { name: "g", lo: G_TF_LO, hi: G_TF_HI, mid: G_TF, line: "#4aae4a", rgb: "77,175,74" },
    { name: "r", lo: R_TF_LO, hi: R_TF_HI, mid: R_TF, line: "#df3b3b", rgb: "228,26,28" },
    { name: "i", lo: I_TF_LO, hi: I_TF_HI, mid: I_TF, line: "#66309a", rgb: "106,61,154" },
  ];
  TF.forEach((t) => {
    band(tx, ty, TAU, t.lo, t.hi, t.name + "-envelope", `rgba(${t.rgb},0.25)`, `rgba(${t.rgb},0.3)`, 0, 1);
  });
  TF.forEach((t, k) => {
    const s: any = {
      type: "line", name: t.name, xAxisIndex: tx, yAxisIndex: ty, data: TAU.map((x, i) => [x, t.mid[i]]),
      symbol: "none", silent: true, z: 3, lineStyle: { color: t.line, width: 1.9 }, itemStyle: { color: t.line },
    };
    if (k === 0) {
      s.markLine = {
        silent: true, symbol: "none", label: { show: false },
        lineStyle: { color: "#000", width: 1.6, type: [1.6, 2.8] },
        data: [{ yAxis: 0 }],
      };
    }
    series.push(s);
  });

  const spacer = (w: number) => ({ pad: { width: w, fontSize: 10 } });
  const lineLegend = (name: string, color: string, left: number, top: number) => ({
    show: true, selectedMode: false, orient: "vertical", left, top, padding: 0,
    itemWidth: 32, itemHeight: 2, icon: "rect",
    data: [{ name, itemStyle: { color, borderWidth: 0 } }],
    formatter: (n: string) => "{pad| }" + n,
    textStyle: { fontFamily: FONT, fontSize: 17.5, color: "#000", lineHeight: 20, rich: { ...spacer(8) } },
  });
  const sigmaRich = { s: { fontStyle: "italic", fontFamily: FONT, fontSize: 18.5, lineHeight: 20 } };

  const legend = [
    lineLegend("g-band", "#7acb7a", 372, 127),
    lineLegend("r-band", "#e86868", 372, 250),
    lineLegend("i-band", "#a476cc", 372, 370.7),
    {
      show: true, selectedMode: false, orient: "vertical", left: 784, top: 267, padding: 0,
      itemWidth: 36, itemHeight: 13, itemGap: 4.3, icon: "rect",
      data: [
        { name: "1\u03c3 CI", itemStyle: { color: RIGHT_FILL[1], borderWidth: 0 } },
        { name: "2\u03c3 CI", itemStyle: { color: RIGHT_FILL[2], borderWidth: 0 } },
        { name: "3\u03c3 CI", itemStyle: { color: RIGHT_FILL[3], borderWidth: 0 } },
      ],
      formatter: (n: string) => "{pad| }" + n.replace("\u03c3", "{s|\u03c3}"),
      textStyle: { fontFamily: FONT, fontSize: 18.5, color: "#000", lineHeight: 20, rich: { ...spacer(8), ...sigmaRich } },
    },
    {
      show: true, selectedMode: false, orient: "vertical", left: 800.25, top: 340, padding: 0,
      itemWidth: 3.5, itemHeight: 3.5, icon: "circle",
      data: [{ name: "Mean Prediction", itemStyle: { color: "#2ca02c", borderWidth: 0 } }],
      formatter: (n: string) => "{pad| }" + n,
      textStyle: { fontFamily: FONT, fontSize: 18.5, color: "#000", lineHeight: 20, rich: { ...spacer(24.25) } },
    },
    {
      show: true, selectedMode: false, orient: "vertical", left: 801.4, top: 364, padding: 0,
      itemWidth: 1.2, itemHeight: 17, icon: "rect",
      data: [{ name: "Observations", itemStyle: { color: "rgba(0,0,0,0.45)", borderWidth: 0 } }],
      formatter: (n: string) => "{pad| }" + n,
      textStyle: { fontFamily: FONT, fontSize: 18.5, color: "#000", lineHeight: 20, rich: { ...spacer(25.4) } },
    },
    {
      show: true, selectedMode: false, orient: "vertical", left: 804, top: 490, padding: 0,
      itemWidth: 45, itemHeight: 2.2, itemGap: 6.5, icon: "rect",
      data: [
        { name: "g", itemStyle: { color: "#6cc06c", borderWidth: 0 } },
        { name: "r", itemStyle: { color: "#e86a6a", borderWidth: 0 } },
        { name: "i", itemStyle: { color: "#7a48ac", borderWidth: 0 } },
      ],
      formatter: (n: string) => "{pad| }" + n,
      textStyle: { fontFamily: FONT, fontSize: 21, color: "#000", lineHeight: 24, rich: { ...spacer(12) } },
    },
  ];

  return {
    animation: false,
    backgroundColor: "#ffffff",
    textStyle: { fontFamily: FONT },
    title: {
      text: "Raju et. al.: Meta-Learning for multitask reverberation mapping of AGN",
      left: "center", top: 7,
      textStyle: { fontFamily: FONT, fontSize: 14, fontWeight: "normal", color: "#000" },
    },
    grid: [
      { left: 56, top: 54, width: 423, height: 104 },
      { left: 56, top: 176, width: 423, height: 106 },
      { left: 56, top: 297, width: 423, height: 105 },
      { left: 557, top: 53, width: 420, height: 346 },
      { left: 171, top: 476, width: 726, height: 361 },
    ],
    xAxis,
    yAxis,
    legend,
    series,
  };
}

export default function App() {
  const ref = useRef<HTMLDivElement>(null);
  useEffect(() => {
    if (!ref.current) return;
    const chart = echarts.init(ref.current, null, { renderer: "svg" });
    chart.setOption(buildOption() as any);
    return () => chart.dispose();
  }, []);
  return (
    <div
      ref={ref}
      style={{ position: "fixed", left: 0, top: 0, width: 1001, height: 902, background: "#fff" }}
    />
  );
}
